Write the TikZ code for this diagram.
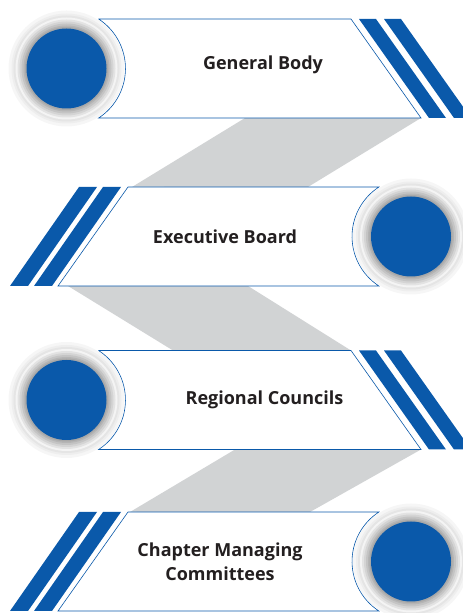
\documentclass[tikz,border=0pt]{standalone}
\usepackage{fontspec}
\setmainfont{Open Sans}

\definecolor{tierblue}{RGB}{10,89,170}
\definecolor{linkgray}{RGB}{209,211,212}
\definecolor{tierink}{RGB}{35,31,32}

\newcommand*\tierhalf{49.5}
\tikzset{
    panel/.style={fill=white, draw=tierblue, line width=0.6pt},
    stripe/.style={fill=tierblue},
    link/.style={fill=linkgray},
    tierlabel/.style={
        font=\bfseries\fontsize{18}{24}\selectfont,
        text=tierink,
        align=center,
        inner sep=0pt
    }
}

% Grey ring with the blue disc on top.
\newcommand*\tierdisc[1]{%
    \fill[gray!7] (#1) circle (58pt);
    \foreach \r/\g in {55/13,53/20,51/9,49/22,47/34,45/46,43/58,41.5/68}
        \fill[gray!\g] (#1) circle (\r pt);
    \fill[tierblue] (#1) circle (40pt);
}

\begin{document}
\begin{tikzpicture}[x=1pt,y=1pt]

    \useasboundingbox (0,0) rectangle (463,613);
    \clip (0,0) rectangle (463,613);

    % First the grey links between the tiers.
    \fill[link] (245,495) -- (421,495) -- (308,426) -- (132,426) -- cycle;
    \fill[link] (68,327) -- (248,327) -- (351,262.5) -- (173,262.5) -- cycle;
    \fill[link] (235,163.5) -- (421,163.5) -- (310,101) -- (130,101) -- cycle;

    % Tiers with the disc on the left.
    \foreach \m/\c in {544.5/disca,213/discc} {
        \coordinate (\c) at (66.5,\m);
        \draw[panel] (98.6,\m+\tierhalf) -- (351,\m+\tierhalf)
            -- (421,\m-\tierhalf) -- (98.6,\m-\tierhalf)
            arc[start angle=-57, end angle=57, radius=59pt] -- cycle;
        \foreach \x in {359,384}
            \fill[stripe] (\x,\m+\tierhalf) -- ++(17,0) -- ++(70,-99)
                -- ++(-17,0) -- cycle;
        \tierdisc{\c}
    }

    % Tiers with the disc on the right.
    \foreach \m/\c in {376.5/discb,51.5/discd} {
        \coordinate (\c) at (411,\m);
        \draw[panel] (128,\m+\tierhalf) -- (58,\m-\tierhalf)
            -- (378.9,\m-\tierhalf)
            arc[start angle=237, end angle=123, radius=59pt] -- cycle;
        \foreach \x in {79,103}
            \fill[stripe] (\x,\m+\tierhalf) -- ++(18,0) -- ++(-69,-99)
                -- ++(-18,0) -- cycle;
        \tierdisc{\c}
    }

    % The tier names.
    \node[tierlabel, anchor=base] (gb) at (263,543) {General Body};
    \node[tierlabel, anchor=base] (eb) at (225,369.7) {Executive Board};
    \node[tierlabel, anchor=base] (rc) at (264.5,208) {Regional Councils};
    \node[tierlabel, anchor=base] (cmc) at (220,32) {Chapter Managing\\Committees};

\end{tikzpicture}
\end{document}
